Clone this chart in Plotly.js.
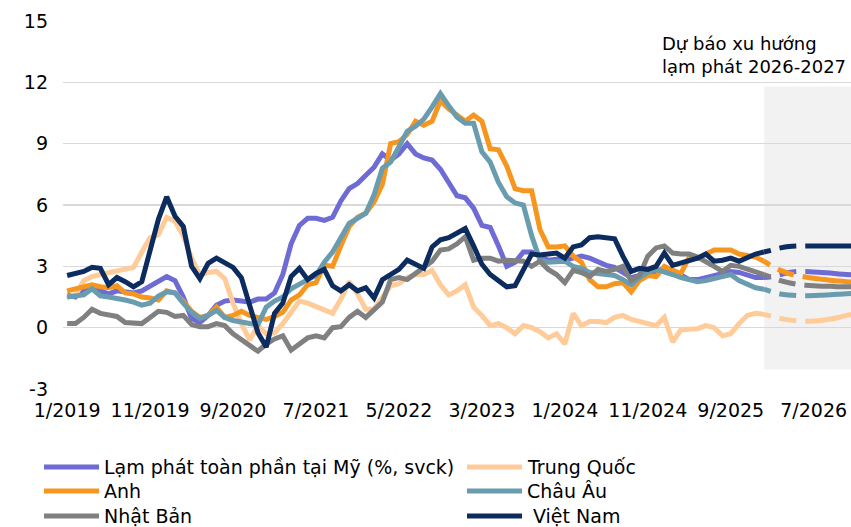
<!DOCTYPE html>
<html><head><meta charset="utf-8">
<script src="https://cdn.plot.ly/plotly-3.0.1.min.js"></script>
<style>html,body{margin:0;padding:0;background:#fff}#chart{width:851px;height:527px}</style>
</head><body><div id="chart"></div>
<script>
// Month categories 1/2019 .. 12/2026
const months = [];
for (let y = 2019; y <= 2026; y++) for (let m = 1; m <= 12; m++) months.push(m + "/" + y);
const histMonths = months.slice(0, 85);   // 1/2019 .. 1/2026
const fcMonths = months.slice(84);        // 1/2026 .. 12/2026

const xTicks = ["1/2019","11/2019","9/2020","7/2021","5/2022","3/2023","1/2024","11/2024","9/2025","7/2026"];
const yTickVals = [-3,0,3,6,9,12,15];
const yTickText = ["-3","0","3","6","9","12","15"];

const names = ["Lạm phát toàn phần tại Mỹ (%, svck)","Trung Quốc","Anh","Châu Âu","Nhật Bản","Việt Nam"];
const colors = ["#6E6BD5","#FFCC99","#F7961E","#6A9CB0","#808080","#0C2B5E"];

const usHist = [1.6,1.5,1.9,2.0,1.8,1.65,1.8,1.75,1.7,1.8,
2.05,2.3,2.5,2.3,1.5,0.45,0.25,0.6,1.1,1.3,
1.35,1.3,1.25,1.4,1.4,1.7,2.6,4.1,5.0,5.35,
5.35,5.25,5.4,6.2,6.8,7.05,7.45,7.85,8.5,8.2,
8.5,9.0,8.5,8.3,8.2,7.75,7.1,6.45,6.35,5.85,
5.0,4.9,4.0,3.0,3.2,3.7,3.7,3.5,3.3,3.35,
3.3,3.4,3.5,3.4,3.2,3.05,2.95,2.7,2.45,2.55,
2.7,2.75,2.9,2.8,2.55,2.35,2.35,2.45,2.6,2.7,
2.75,2.7,2.55,2.45,2.45];
const cnHist = [1.5,1.6,2.3,2.5,2.6,2.7,2.8,2.85,2.95,3.7,
4.4,4.55,5.4,5.2,4.5,3.4,2.6,2.7,2.75,2.4,
1.2,0.2,-0.6,0.1,-0.3,-0.25,0.2,0.75,1.3,1.2,
1.05,0.85,0.7,1.4,2.25,1.65,0.9,0.9,1.5,2.05,
2.15,2.45,2.6,2.6,2.8,2.1,1.6,1.8,2.1,1.0,
0.6,0.1,0.2,0.0,-0.3,0.1,0.0,-0.2,-0.5,-0.3,
-0.8,0.7,0.1,0.3,0.3,0.25,0.5,0.6,0.4,0.3,
0.2,0.1,0.5,-0.7,-0.1,-0.1,-0.05,0.1,0.0,-0.4,
-0.3,0.2,0.6,0.7,0.65];
const ukHist = [1.8,1.9,1.95,2.1,2.0,1.95,2.05,1.7,1.65,1.5,
1.45,1.35,1.8,1.7,1.3,0.8,0.5,0.6,1.0,0.5,
0.6,0.8,0.6,0.5,0.4,0.55,0.75,1.35,1.6,2.1,
2.2,3.05,3.0,4.0,4.95,5.4,5.6,6.15,7.0,9.0,
9.1,9.45,10.1,9.9,10.1,11.1,10.7,10.4,10.1,10.4,
10.1,8.75,8.7,7.9,6.8,6.7,6.7,4.8,3.95,3.95,
4.0,3.5,3.2,2.35,2.0,2.0,2.15,2.2,1.75,2.3,
2.55,2.5,3.0,2.8,2.65,3.45,3.4,3.6,3.8,3.8,
3.8,3.6,3.55,3.45,3.25];
const euHist = [1.5,1.55,1.6,1.9,1.55,1.5,1.45,1.35,1.25,1.1,
1.2,1.55,1.75,1.7,1.2,0.75,0.45,0.6,0.85,0.5,
0.35,0.25,0.2,0.15,1.0,1.3,1.5,1.9,2.15,2.35,
2.55,3.2,3.7,4.35,5.1,5.35,5.6,6.5,7.8,8.1,
8.9,9.6,9.85,10.2,10.8,11.45,10.85,10.3,10.0,10.0,
8.6,8.1,7.1,6.4,6.1,6.0,4.5,3.3,3.2,3.2,
3.25,3.0,2.9,2.7,2.65,2.65,2.55,2.35,2.1,2.45,
2.7,2.85,2.75,2.6,2.45,2.35,2.25,2.3,2.4,2.45,
2.6,2.3,2.1,1.95,1.88];
const jpHist = [0.2,0.2,0.5,0.9,0.7,0.65,0.55,0.25,0.2,0.2,
0.5,0.8,0.75,0.55,0.6,0.15,0.05,0.05,0.2,0.1,
-0.3,-0.6,-0.9,-1.15,-0.8,-0.55,-0.4,-1.1,-0.8,-0.5,
-0.4,-0.5,0.0,0.05,0.5,0.8,0.5,0.9,1.25,2.35,
2.45,2.35,2.65,2.95,3.25,3.8,3.85,4.1,4.45,3.3,
3.4,3.4,3.25,3.3,3.3,3.25,3.0,3.25,2.85,2.6,
2.2,2.8,2.7,2.5,2.85,2.75,2.85,3.0,2.3,2.55,
3.5,3.9,4.0,3.65,3.6,3.6,3.45,3.25,3.0,2.75,
3.05,3.0,2.85,2.7,2.6];
const vnHist = [2.55,2.65,2.75,2.95,2.9,2.1,2.45,2.25,2.0,2.25,
3.9,5.3,6.4,5.45,4.95,3.0,2.4,3.15,3.4,3.2,
2.95,2.45,1.05,-0.25,-0.95,0.7,1.2,2.5,2.9,2.35,
2.65,2.85,2.05,1.8,2.1,1.8,1.95,1.45,2.35,2.6,
2.85,3.3,3.1,2.9,3.95,4.3,4.4,4.6,4.85,4.0,
3.1,2.6,2.3,2.0,2.05,2.85,3.6,3.55,3.6,3.65,
3.4,3.95,4.05,4.4,4.45,4.4,4.35,3.5,2.75,2.9,
2.85,3.0,3.65,3.05,3.15,3.25,3.4,3.6,3.25,3.3,
3.4,3.25,3.45,3.6,3.7];

const usFc = [2.45,2.5,2.6,2.7,2.75,2.75,2.72,2.7,2.67,2.63,2.6,2.58];
const cnFc = [0.65,0.55,0.45,0.38,0.33,0.31,0.32,0.36,0.42,0.5,0.6,0.68];
const ukFc = [3.25,3.0,2.8,2.65,2.55,2.48,2.42,2.37,2.32,2.28,2.25,2.23];
const euFc = [1.88,1.75,1.65,1.6,1.57,1.56,1.57,1.59,1.61,1.63,1.66,1.68];
const jpFc = [2.6,2.45,2.3,2.2,2.12,2.08,2.05,2.03,2.02,2.0,2.0,1.99];
const vnFc = [3.7,3.8,3.9,3.97,4.0,4.0,4.0,4.0,4.0,4.0,4.0,4.0];

const forecastTitle = "Dự báo xu hướng<br>lạm phát 2026-2027";

const hist = [usHist, cnHist, ukHist, euHist, jpHist, vnHist];
const fc = [usFc, cnFc, ukFc, euFc, jpFc, vnFc];

const FONT = "DejaVu Sans, Liberation Sans, Arial, sans-serif";
const FS = 19;
const LW = 5;

const traces = [];
for (let k = 0; k < names.length; k++) {
  traces.push({type: "scatter", mode: "lines", x: histMonths, y: hist[k], name: names[k],
    line: {color: colors[k], width: LW}, showlegend: false, hoverinfo: "skip"});
}
for (let k = 0; k < names.length; k++) {
  traces.push({type: "scatter", mode: "lines", x: fcMonths, y: fc[k], name: names[k] + " (dự báo)",
    line: {color: colors[k], width: LW, dash: "7px,9px,17px,9px,300px", shape: "spline"},
    showlegend: false, hoverinfo: "skip"});
}

// pixel -> paper helpers for the plot area
const PL = 63, PR = 851, PT = 21, PB = 389;
const px = v => (v - PL) / (PR - PL);
const py = v => (PB - v) / (PB - PT);

const shapes = [
  {type: "rect", xref: "x", yref: "y", x0: 84.05, x1: 94.5, y0: -2.05, y1: 11.8,
   fillcolor: "#F2F2F2", line: {width: 0}, layer: "below"},
  {type: "rect", xref: "paper", yref: "paper", x0: px(642), x1: px(860), y0: py(30), y1: py(12),
   fillcolor: "#FFFFFF", line: {width: 0}, layer: "above"}
];
const annotations = [
  {xref: "paper", yref: "paper", x: px(660), y: py(54.5), xanchor: "left", yanchor: "middle",
   align: "left", showarrow: false, text: forecastTitle, font: {family: FONT, size: 18, color: "#000"}}
];

// manual legend (2 columns x 3 rows)
const legCols = [44, 467], legRows = [467, 491, 516];
for (let k = 0; k < names.length; k++) {
  const c = k % 2, r = Math.floor(k / 2);
  const x0 = legCols[c], yy = legRows[r];
  shapes.push({type: "line", xref: "paper", yref: "paper", x0: px(x0), x1: px(x0 + 55), y0: py(yy), y1: py(yy),
    line: {color: colors[k], width: 5}});
  annotations.push({xref: "paper", yref: "paper", x: px(x0 + 58 + (k === 5 ? 6 : 0)), y: py(yy),
    xanchor: "left", yanchor: "middle", showarrow: false, text: names[k],
    font: {family: FONT, size: FS, color: "#000"}});
}

const layout = {
  width: 851, height: 527,
  margin: {l: PL, r: 851 - PR, t: PT, b: 527 - PB, pad: 0},
  paper_bgcolor: "#FFFFFF", plot_bgcolor: "#FFFFFF",
  showlegend: false,
  font: {family: FONT, size: FS, color: "#000"},
  xaxis: {type: "category", categoryorder: "array", categoryarray: months,
    range: [-0.5, 94.5], tickmode: "array", tickvals: xTicks, ticktext: xTicks,
    showgrid: false, zeroline: false, showline: false, ticks: "", ticklabelstandoff: 8,
    tickfont: {family: FONT, size: FS, color: "#000"}, fixedrange: true},
  yaxis: {range: [-3, 15], tickmode: "array", tickvals: yTickVals, ticktext: yTickText,
    showgrid: true, gridcolor: "#D9D9D9", gridwidth: 1.6, zeroline: false, showline: false,
    ticks: "", ticklabelstandoff: 14, tickfont: {family: FONT, size: FS, color: "#000"}, fixedrange: true},
  shapes: shapes,
  annotations: annotations
};

Plotly.newPlot("chart", traces, layout, {staticPlot: true, displayModeBar: false});
</script>
</body></html>
